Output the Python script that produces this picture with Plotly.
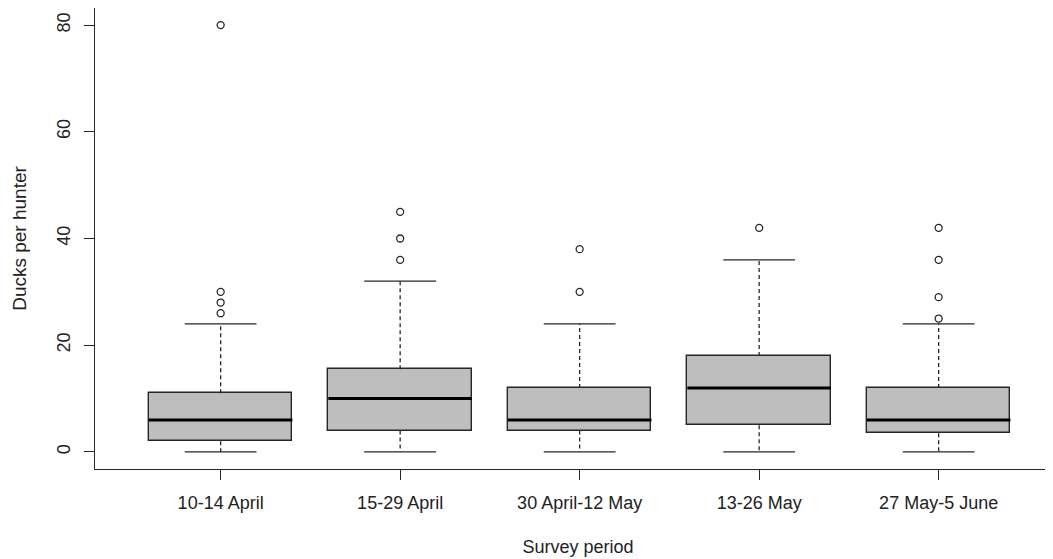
import plotly.graph_objects as go

categories = ["10-14 April", "15-29 April", "30 April-12 May", "13-26 May", "27 May-5 June"]
lower_whisker = [0, 0, 0, 0, 0]
q1 = [2, 4, 4, 5, 3.5]
median = [6, 10, 6, 12, 6]
q3 = [11, 15.5, 12, 18, 12]
upper_whisker = [24, 32, 24, 36, 24]
outliers = [
    [26, 28, 30, 80],
    [36, 40, 45],
    [30, 38],
    [42],
    [25, 29, 36, 42],
]
y_ticks = [0, 20, 40, 60, 80]

positions = list(range(1, len(categories) + 1))
BOX_W = 0.8
CAP_W = 0.4
LINE = "#262626"

fig = go.Figure()

# boxes
fig.add_trace(go.Bar(
    x=positions,
    y=[b - a for a, b in zip(q1, q3)],
    base=q1,
    width=BOX_W,
    marker=dict(color="#BEBEBE", line=dict(color=LINE, width=1.4)),
    hoverinfo="skip",
    showlegend=False,
))

# whiskers (dashed)
wx, wy = [], []
for p, lo, a, b, hi in zip(positions, lower_whisker, q1, q3, upper_whisker):
    wx += [p, p, None, p, p, None]
    wy += [b, hi, None, a, lo, None]
fig.add_trace(go.Scatter(x=wx, y=wy, mode="lines",
                         line=dict(color=LINE, width=1.3, dash="4px,3px"),
                         hoverinfo="skip", showlegend=False))

# caps
cx, cy = [], []
for p, lo, hi in zip(positions, lower_whisker, upper_whisker):
    cx += [p - CAP_W / 2, p + CAP_W / 2, None, p - CAP_W / 2, p + CAP_W / 2, None]
    cy += [hi, hi, None, lo, lo, None]
fig.add_trace(go.Scatter(x=cx, y=cy, mode="lines",
                         line=dict(color=LINE, width=1.3),
                         hoverinfo="skip", showlegend=False))

# medians
mx, my = [], []
for p, m in zip(positions, median):
    mx += [p - BOX_W / 2, p + BOX_W / 2, None]
    my += [m, m, None]
fig.add_trace(go.Scatter(x=mx, y=my, mode="lines",
                         line=dict(color="#000000", width=3),
                         hoverinfo="skip", showlegend=False))

# outliers
ox, oy = [], []
for p, outs in zip(positions, outliers):
    for v in outs:
        ox.append(p)
        oy.append(v)
fig.add_trace(go.Scatter(x=ox, y=oy, mode="markers",
                         marker=dict(symbol="circle-open", size=7,
                                     line=dict(color=LINE, width=1.3), color=LINE),
                         hoverinfo="skip", showlegend=False))

font = dict(family="Liberation Sans, Arial, sans-serif", size=18, color="#222222")

PLOT_LEFT = 87
fig.update_layout(
    width=1053, height=559,
    margin=dict(l=PLOT_LEFT, r=0, t=0, b=98),
    paper_bgcolor="white", plot_bgcolor="white",
    font=font,
    bargap=0,
    xaxis=dict(
        range=[0.3, 0.3 + (1053 - PLOT_LEFT) / 179.5],
        tickvals=positions, ticktext=categories,
        showgrid=False, zeroline=False, automargin=False,
        showline=True, linecolor=LINE, linewidth=1.3, mirror=True,
        ticks="outside", ticklen=10, tickcolor=LINE, tickwidth=1,
        ticklabelstandoff=7,
        title=dict(text="Survey period", standoff=28, font=font),
        tickfont=font,
    ),
    yaxis=dict(
        range=[-3.2, 83.2],
        tickvals=y_ticks,
        tickangle=-90,
        showgrid=False, zeroline=False, automargin=False,
        showline=True, linecolor=LINE, linewidth=1.3,
        ticks="outside", ticklen=10, tickcolor=LINE, tickwidth=1,
        ticklabelstandoff=7,
        title=dict(text="Ducks per hunter", standoff=22, font=dict(font, size=19)),
        tickfont=font,
    ),
)

fig.write_html("out.html")
